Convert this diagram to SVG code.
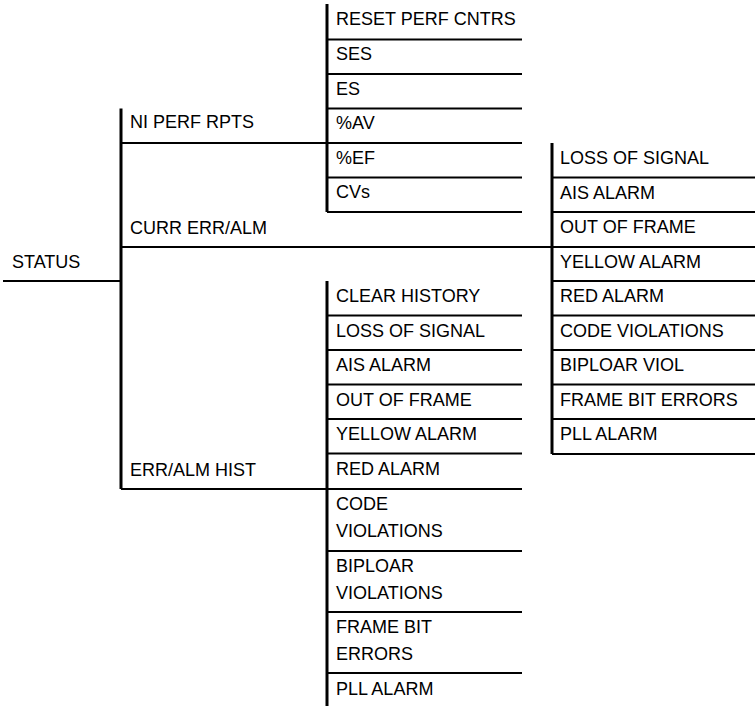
<svg xmlns="http://www.w3.org/2000/svg" width="755" height="706" viewBox="0 0 755 706">
<style>
text{font-family:"Liberation Sans",Arial,sans-serif;font-size:18px;fill:#000}
.v{stroke:#000;stroke-width:3;fill:none}
.h{stroke:#000;stroke-width:2;fill:none}
</style>
<rect width="755" height="706" fill="#fff"/>
<g id="connectors">
<path class="h" d="M3 281H122"/>
<path class="v" d="M121 108.5V489"/>
<path class="h" d="M121 143H522M121 247H755M121 489H522"/>
<path class="v" d="M327 4V212"/>
<path class="v" d="M327 281V708"/>
<path class="v" d="M552 143V454"/>
</g>
<g id="status"><text x="12" y="268">STATUS</text></g>
<g id="ni-perf-rpts"><text x="130" y="128">NI PERF RPTS</text></g>
<g id="curr-err-alm"><text x="130" y="234">CURR ERR/ALM</text></g>
<g id="err-alm-hist"><text x="130" y="476">ERR/ALM HIST</text></g>
<g id="perf-menu">
<path class="h" d="M327 39.5H522M327 74H522M327 108.5H522M327 177.5H522M327 212H522"/>
<text x="336" y="25">RESET PERF CNTRS</text>
<text x="336" y="60">SES</text>
<text x="336" y="94.5">ES</text>
<text x="336" y="129">%AV</text>
<text x="336" y="163.5">%EF</text>
<text x="336" y="198">CVs</text>
</g>
<g id="curr-menu">
<path class="h" d="M552 177.5H755M552 212H755M552 281H755M552 315.5H755M552 350H755M552 384.5H755M552 419H755M552 454H755"/>
<text x="560" y="164">LOSS OF SIGNAL</text>
<text x="560" y="198.5">AIS ALARM</text>
<text x="560" y="233">OUT OF FRAME</text>
<text x="560" y="267.5">YELLOW ALARM</text>
<text x="560" y="302">RED ALARM</text>
<text x="560" y="336.5">CODE VIOLATIONS</text>
<text x="560" y="371">BIPLOAR VIOL</text>
<text x="560" y="405.5">FRAME BIT ERRORS</text>
<text x="560" y="440">PLL ALARM</text>
</g>
<g id="hist-menu">
<path class="h" d="M327 315.5H522M327 350H522M327 384.5H522M327 419H522M327 453.5H522M327 551H522M327 612H522M327 673H522"/>
<text x="336" y="302">CLEAR HISTORY</text>
<text x="336" y="336.5">LOSS OF SIGNAL</text>
<text x="336" y="371">AIS ALARM</text>
<text x="336" y="405.5">OUT OF FRAME</text>
<text x="336" y="440">YELLOW ALARM</text>
<text x="336" y="474.5">RED ALARM</text>
<text x="336" y="510">CODE</text>
<text x="336" y="537">VIOLATIONS</text>
<text x="336" y="572">BIPLOAR</text>
<text x="336" y="599">VIOLATIONS</text>
<text x="336" y="633">FRAME BIT</text>
<text x="336" y="660">ERRORS</text>
<text x="336" y="695">PLL ALARM</text>
</g>
</svg>
